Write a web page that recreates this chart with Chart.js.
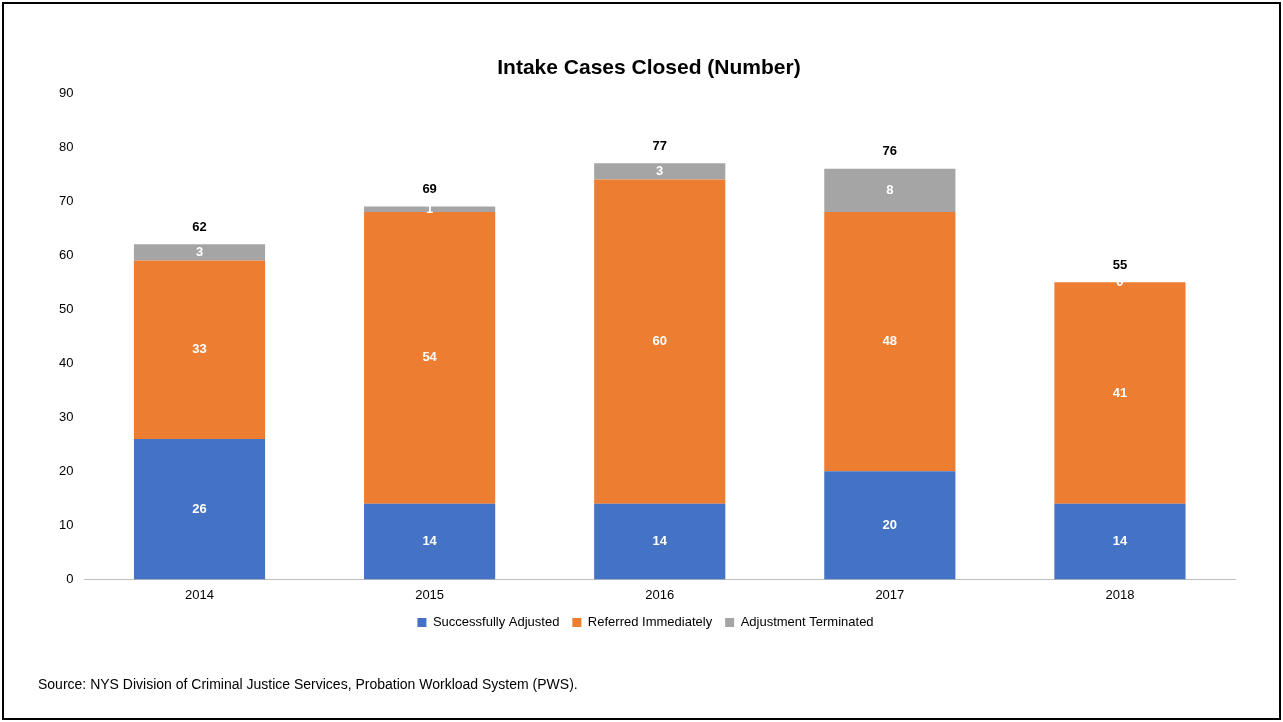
<!DOCTYPE html>
<html>
<head>
    <title>Intake Cases Closed</title>
    <script src="https://cdn.jsdelivr.net/npm/chart.js"></script>
    <style>
        body {
            margin: 0;
            font-family: Arial, "Liberation Sans", sans-serif;
            background: #fff;
        }
        #wrap {
            position: relative;
            width: 1283px;
            height: 722px;
        }
        #frame {
            position: absolute;
            left: 2px;
            top: 2px;
            width: 1275px;
            height: 714px;
            border: 2px solid #000;
            pointer-events: none;
        }
        #title {
            position: absolute;
            left: 349px;
            width: 600px;
            top: 55px;
            text-align: center;
            font-size: 21px;
            font-weight: bold;
            color: #000;
        }
        #source {
            position: absolute;
            left: 38px;
            top: 676px;
            font-size: 14px;
            color: #000;
        }
    </style>
</head>
<body>
    <div id="wrap">
        <canvas id="myChart" width="1283" height="722"></canvas>
        <div id="frame"></div>
        <div id="title">Intake Cases Closed (Number)</div>
        <div id="source">Source: NYS Division of Criminal Justice Services, Probation Workload System (PWS).</div>
    </div>

    <script>
        const years = ['2014', '2015', '2016', '2017', '2018'];
        const adjusted = [26, 14, 14, 20, 14];
        const referred = [33, 54, 60, 48, 41];
        const terminated = [3, 1, 3, 8, 0];
        const seriesNames = ['Successfully Adjusted', 'Referred Immediately', 'Adjustment Terminated'];
        const yTicks = [0, 10, 20, 30, 40, 50, 60, 70, 80, 90];

        const totals = years.map((y, i) => adjusted[i] + referred[i] + terminated[i]);

        // draws the white values in each segment and the black totals on top
        const barLabels = {
            id: 'barLabels',
            afterDatasetsDraw(chart) {
                const ctx = chart.ctx;
                ctx.save();
                ctx.textAlign = 'center';
                ctx.textBaseline = 'middle';
                ctx.font = 'bold 13px Arial';
                ctx.fillStyle = '#fff';
                chart.data.datasets.forEach((ds, di) => {
                    const meta = chart.getDatasetMeta(di);
                    meta.data.forEach((bar, i) => {
                        ctx.fillText(ds.data[i], bar.x, (bar.y + bar.base) / 2);
                    });
                });
                const last = chart.getDatasetMeta(chart.data.datasets.length - 1);
                ctx.fillStyle = '#000';
                last.data.forEach((bar, i) => {
                    ctx.fillText(totals[i], bar.x, bar.y - 17);
                });
                ctx.restore();
            }
        };

        const ctx = document.getElementById('myChart').getContext('2d');
        new Chart(ctx, {
            type: 'bar',
            data: {
                labels: years,
                datasets: [
                    { label: seriesNames[0], data: adjusted, backgroundColor: '#4472C4' },
                    { label: seriesNames[1], data: referred, backgroundColor: '#ED7D31' },
                    { label: seriesNames[2], data: terminated, backgroundColor: '#A5A5A5' }
                ]
            },
            options: {
                responsive: false,
                animation: false,
                layout: {
                    padding: { left: 56, right: 48, top: 93, bottom: 83 }
                },
                datasets: {
                    bar: { barPercentage: 0.57, categoryPercentage: 1 }
                },
                scales: {
                    x: {
                        stacked: true,
                        grid: { display: false },
                        border: { color: '#bfbfbf', width: 1 },
                        ticks: { color: '#000', font: { family: 'Arial', size: 13 }, padding: 0 }
                    },
                    y: {
                        stacked: true,
                        min: 0,
                        max: 90,
                        afterBuildTicks: axis => { axis.ticks = yTicks.map(v => ({ value: v })); },
                        grid: { display: false },
                        border: { display: false },
                        ticks: { color: '#000', font: { family: 'Arial', size: 13 }, padding: 3 }
                    }
                },
                plugins: {
                    legend: {
                        position: 'bottom',
                        labels: {
                            color: '#000',
                            boxWidth: 9,
                            boxHeight: 9,
                            padding: 13,
                            font: { family: 'Arial', size: 13 }
                        }
                    },
                    tooltip: { enabled: false }
                }
            },
            plugins: [barLabels]
        });
    </script>
</body>
</html>
